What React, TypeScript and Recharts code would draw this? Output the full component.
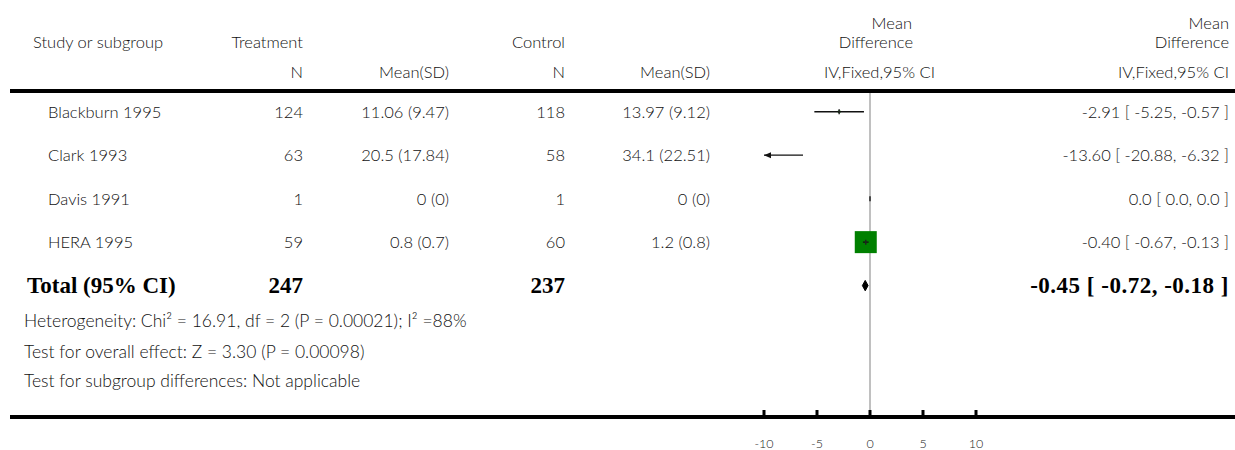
import React from 'react';
import { ComposedChart, Scatter, XAxis, YAxis } from 'recharts';

// ---------- data ----------
const studyNames = ['Blackburn 1995', 'Clark 1993', 'Davis 1991', 'HERA 1995'];
const treatmentN = [124, 63, 1, 59];
const treatmentMeanSD = ['11.06 (9.47)', '20.5 (17.84)', '0 (0)', '0.8 (0.7)'];
const controlN = [118, 58, 1, 60];
const controlMeanSD = ['13.97 (9.12)', '34.1 (22.51)', '0 (0)', '1.2 (0.8)'];
const meanDiff = [-2.91, -13.6, 0.0, -0.4];
const ciLower = [-5.25, -20.88, 0.0, -0.67];
const ciUpper = [-0.57, -6.32, 0.0, -0.13];
const effectLabels = ['-2.91 [ -5.25, -0.57 ]', '-13.60 [ -20.88, -6.32 ]', '0.0 [ 0.0, 0.0 ]', '-0.40 [ -0.67, -0.13 ]'];
const weights = [1.3, 0.1, 0, 98.6]; // estimated (box sizes)

const totalLabel = 'Total (95% CI)';
const totalTreatmentN = 247;
const totalControlN = 237;
const totalMD = -0.45;
const totalLower = -0.72;
const totalUpper = -0.18;
const totalEffectLabel = '-0.45 [ -0.72, -0.18 ]';

const footnotes = [
  'Heterogeneity: Chi\u00B2 = 16.91, df = 2 (P = 0.00021); I\u00B2 =88%',
  'Test for overall effect: Z = 3.30 (P = 0.00098)',
  'Test for subgroup differences: Not applicable',
];

const xTicks = [-10, -5, 0, 5, 10];
const xDomain: [number, number] = [-10, 10];

// ---------- layout ----------
const W = 1235;
const H = 450;
const SANS = "Lato, 'Open Sans', sans-serif";
const SERIF = "'Liberation Serif', 'Times New Roman', serif";
const TEXT_COLOR = '#111';
const COL = { name: 48, tN: 303, tM: 449, cN: 565, cM: 710, eff: 1229 };
const rowIdx = studyNames.map((_, i) => i);
const totalRow = studyNames.length;

const clamp = (v: number) => Math.max(xDomain[0], Math.min(xDomain[1], v));

const rowData = studyNames.map((name, i) => ({
  x: 0,
  y: i,
  name,
  tN: treatmentN[i],
  tM: treatmentMeanSD[i],
  cN: controlN[i],
  cM: controlMeanSD[i],
  eff: effectLabels[i],
}));

const boxData = rowIdx
  .filter((i) => meanDiff[i] >= xDomain[0] && meanDiff[i] <= xDomain[1])
  .map((i) => ({ x: meanDiff[i], y: i, w: weights[i] }));

const ciData = rowIdx.map((i) => [
  { x: clamp(ciLower[i]), y: i, clipped: ciLower[i] < xDomain[0] ? -1 : 0 },
  { x: clamp(ciUpper[i]), y: i, clipped: ciUpper[i] > xDomain[1] ? 1 : 0 },
]);

const DH = 0.12;
const diamondData = [
  { x: totalLower, y: totalRow },
  { x: totalMD, y: totalRow - DH },
  { x: totalUpper, y: totalRow },
  { x: totalMD, y: totalRow + DH },
  { x: totalLower, y: totalRow },
];

const zeroLineData = [
  { x: 0, y: -0.5 },
  { x: 0, y: 7 },
];

const totalData = [{ x: 0, y: totalRow }];

const maxW = Math.max(...weights);

// ---------- shapes ----------
const sansText = {
  fontFamily: SANS,
  fontSize: 16.5,
  fill: TEXT_COLOR,
  fontWeight: 300,
  dominantBaseline: 'central' as const,
};
const footText = { ...sansText, fontSize: 17.5 };
const serifBold = {
  fontFamily: SERIF,
  fontSize: 23,
  fill: '#000',
  fontWeight: 700,
  dominantBaseline: 'central' as const,
};

const Nothing = () => <g />;

const RowText = (props: any) => {
  const { cy, payload } = props;
  return (
    <g>
      <text x={COL.name} y={cy} {...sansText}>{payload.name}</text>
      <text x={COL.tN} y={cy} textAnchor="end" {...sansText}>{payload.tN}</text>
      <text x={COL.tM} y={cy} textAnchor="end" {...sansText}>{payload.tM}</text>
      <text x={COL.cN} y={cy} textAnchor="end" {...sansText}>{payload.cN}</text>
      <text x={COL.cM} y={cy} textAnchor="end" {...sansText}>{payload.cM}</text>
      <text x={COL.eff} y={cy} textAnchor="end" {...sansText}>{payload.eff}</text>
    </g>
  );
};

const TotalText = (props: any) => {
  const { cy } = props;
  return (
    <g>
      <text x={27} y={cy} {...serifBold}>{totalLabel}</text>
      <text x={COL.tN} y={cy} textAnchor="end" {...serifBold}>{totalTreatmentN}</text>
      <text x={COL.cN} y={cy} textAnchor="end" {...serifBold}>{totalControlN}</text>
      <text x={COL.eff} y={cy} textAnchor="end" {...serifBold} letterSpacing={0.5}>{totalEffectLabel}</text>
    </g>
  );
};

const Box = (props: any) => {
  const { cx, cy, payload } = props;
  if (!payload.w) return <g />;
  const s = 22 * Math.sqrt(payload.w / maxW);
  return <rect x={cx - s / 2} y={cy - s / 2} width={s} height={s} fill="#008000" />;
};

const Tick = (props: any) => {
  const { cx, cy } = props;
  return <line x1={cx} x2={cx} y1={cy - 2.5} y2={cy + 2.5} stroke="#222" strokeWidth={1.5} />;
};

const CIEnd = (props: any) => {
  const { cx, cy, payload } = props;
  if (!payload.clipped) return <g />;
  const d = payload.clipped;
  return (
    <polygon
      points={`${cx},${cy} ${cx - d * 7},${cy - 3} ${cx - d * 7},${cy + 3}`}
      fill="#111"
    />
  );
};

const AxisTick = (props: any) => {
  const { x, y, payload } = props;
  return (
    <g>
      <line x1={x} x2={x} y1={y - 6} y2={y} stroke="#000" strokeWidth={3} />
      <text
        x={x}
        y={y + 27}
        textAnchor="middle"
        dominantBaseline="central"
        fontFamily={SANS}
        fontWeight={300}
        fontSize={12.5}
        fill="#222"
      >
        {payload.value}
      </text>
    </g>
  );
};

export default function App() {
  const headerText = { ...sansText };
  return (
    <div style={{ position: 'absolute', left: 0, top: 0, width: W, height: H, background: '#fff' }}>
      <ComposedChart
        width={W}
        height={H}
        margin={{ top: 90, right: 259, bottom: 0, left: 764 }}
      >
        <XAxis
          type="number"
          dataKey="x"
          domain={xDomain}
          ticks={xTicks}
          height={34}
          axisLine={false}
          tickLine={false}
          tickSize={0}
          tickMargin={0}
          tick={<AxisTick />}
        />
        <YAxis type="number" dataKey="y" domain={[-0.5, 7]} reversed hide />
        <Scatter
          data={zeroLineData}
          line={{ stroke: '#ababab', strokeWidth: 1.5 }}
          shape={<Nothing />}
          isAnimationActive={false}
        />
        <Scatter data={boxData} shape={<Box />} isAnimationActive={false} />
        {ciData.map((d, i) => (
          <Scatter
            key={`ci-${i}`}
            data={d}
            line={{ stroke: '#111', strokeWidth: 1.3 }}
            shape={<CIEnd />}
            isAnimationActive={false}
          />
        ))}
        <Scatter data={boxData} shape={<Tick />} isAnimationActive={false} />
        <Scatter
          data={diamondData}
          line={{ stroke: '#000', strokeWidth: 1, fill: '#000' }}
          shape={<Nothing />}
          isAnimationActive={false}
        />
        <Scatter data={rowData} shape={<RowText />} isAnimationActive={false} />
        <Scatter data={totalData} shape={<TotalText />} isAnimationActive={false} />
      </ComposedChart>
      <svg
        width={W}
        height={H}
        style={{ position: 'absolute', left: 0, top: 0, pointerEvents: 'none' }}
      >
        <line x1={10} x2={W} y1={91} y2={91} stroke="#000" strokeWidth={4} />
        <line x1={10} x2={W} y1={417} y2={417} stroke="#000" strokeWidth={4} />
        <text x={33} y={42} {...headerText}>Study or subgroup</text>
        <text x={303} y={42} textAnchor="end" {...headerText}>Treatment</text>
        <text x={565} y={42} textAnchor="end" {...headerText}>Control</text>
        <text x={303} y={72} textAnchor="end" {...headerText}>N</text>
        <text x={449} y={72} textAnchor="end" {...headerText}>Mean(SD)</text>
        <text x={565} y={72} textAnchor="end" {...headerText}>N</text>
        <text x={710} y={72} textAnchor="end" {...headerText}>Mean(SD)</text>
        <text x={912} y={23} textAnchor="end" {...headerText}>Mean</text>
        <text x={913} y={42} textAnchor="end" {...headerText}>Difference</text>
        <text x={935} y={72} textAnchor="end" {...headerText}>IV,Fixed,95% CI</text>
        <text x={1229} y={23} textAnchor="end" {...headerText}>Mean</text>
        <text x={1229} y={42} textAnchor="end" {...headerText}>Difference</text>
        <text x={1229} y={72} textAnchor="end" {...headerText}>IV,Fixed,95% CI</text>
        {footnotes.map((f, i) => (
          <text key={i} x={24} y={[320, 351, 380][i]} {...footText}>{f}</text>
        ))}
      </svg>
    </div>
  );
}
